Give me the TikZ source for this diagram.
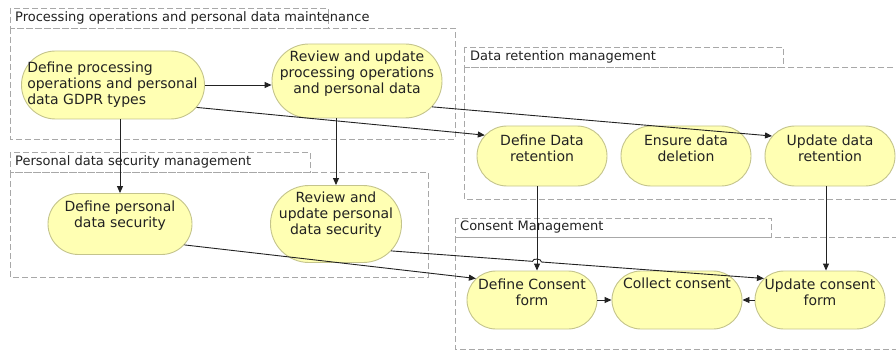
\documentclass[tikz,border=0pt]{standalone}
\usepackage{fontspec}
\setmainfont{DejaVu Sans}
\usetikzlibrary{shapes.misc,arrows.meta,calc}
\definecolor{nodefill}{HTML}{FFFFB3}
\definecolor{nodeline}{HTML}{C4C48C}
\definecolor{grp}{HTML}{A8A8A8}
\definecolor{ink}{HTML}{222222}
\begin{document}
\begin{tikzpicture}[x=1pt,y=-1pt,
  act/.style={rounded rectangle, draw=nodeline, fill=nodefill, line width=0.9pt, inner sep=0pt},
  txt/.style={font=\fontsize{14}{16}\selectfont, text=ink, align=center, inner sep=0pt},
  grpbox/.style={draw=grp, dash pattern=on 6pt off 3pt, line width=0.8pt},
  grplabel/.style={font=\fontsize{13}{15}\selectfont, text=ink, anchor=west, inner sep=0pt},
  flow/.style={draw=ink, line width=0.9pt, -{Triangle[length=7pt,width=6pt]}}]
\useasboundingbox (0,0) rectangle (896,350);
\fill[white] (0,0) rectangle (896,350);
% groups
\draw[grpbox] (10,8) rectangle (328,28);
\draw[grpbox] (10,28) rectangle (455,139);
\node[grplabel] (g1) at (15,18) {Processing operations and personal data maintenance};
\draw[grpbox] (10,152) rectangle (310,172);
\draw[grpbox] (10,172) rectangle (428,277);
\node[grplabel] (g2) at (15,162) {Personal data security management};
\draw[grpbox] (464,47) rectangle (783,67);
\draw[grpbox] (464,67) rectangle (902,199);
\node[grplabel] (g3) at (470,57) {Data retention management};
\draw[grpbox] (455,218) rectangle (771,237);
\draw[grpbox] (455,237) rectangle (902,349);
\node[grplabel] (g4) at (460,227) {Consent Management};
% activities
\node[act, minimum width=183pt, minimum height=68pt] (dp) at (113,85) {};
\node[act, minimum width=170pt, minimum height=74pt] (rp) at (357,81) {};
\node[act, minimum width=144pt, minimum height=61pt] (dps) at (120,224) {};
\node[act, minimum width=131pt, minimum height=77pt] (rps) at (336,224) {};
\node[act, minimum width=130pt, minimum height=60pt] (ddr) at (542,156) {};
\node[act, minimum width=130pt, minimum height=60pt] (edd) at (686,156) {};
\node[act, minimum width=130pt, minimum height=60pt] (udr) at (830,156) {};
\node[act, minimum width=130pt, minimum height=58pt] (dcf) at (532,300) {};
\node[act, minimum width=130pt, minimum height=58pt] (cc) at (677,300) {};
\node[act, minimum width=130pt, minimum height=58pt] (ucf) at (820,300) {};
% texts
\node[txt, align=left, anchor=west] (dpt) at ([xshift=6pt]dp.west) {Define processing\\operations and personal\\data GDPR types};
\node[txt] (rpt) at ([yshift=7pt]rp.center) {Review and update\\processing operations\\and personal data};
\node[txt] (dpst) at ([yshift=8pt]dps.center) {Define personal\\data security};
\node[txt] (rpst) at ([yshift=9pt]rps.center) {Review and\\update personal\\data security};
\node[txt] (ddrt) at ([yshift=8pt]ddr.center) {Define Data\\retention};
\node[txt] (eddt) at ([yshift=8pt]edd.center) {Ensure data\\deletion};
\node[txt] (udrt) at ([yshift=8pt]udr.center) {Update data\\retention};
\node[txt] (dcft) at ([yshift=8pt]dcf.center) {Define Consent\\form};
\node[txt] (cct) at ([yshift=17pt]cc.center) {Collect consent};
\node[txt] (ucft) at ([yshift=8pt]ucf.center) {Update consent\\form};
% connectors
\draw[flow] (dp.east) -- (dp.east -| rp.west);
\draw[flow] (dp.-15) -- (ddr.160);
\draw[flow] (rp.-19) -- (udr.161);
\draw[flow] (dps.north |- dp.south) -- (dps.north);
\draw[flow] (rps.north |- rp.south) -- (rps.north);
\draw[flow] (dps.-18) -- (dcf.159);
\coordinate (va) at ([xshift=-5pt]ddr.south);
\coordinate (vb) at (va |- dcf.north);
\draw[flow] (va) -- (vb);
\coordinate (ra) at (rps.-26);
\coordinate (ua) at (ucf.159);
\coordinate (xx) at (intersection of ra--ua and va--vb);
\draw[flow] (ra) -- ($(xx)!4.5pt!(ra)$) to[bend left=90] ($(xx)!4.5pt!(ua)$) -- (ua);
\coordinate (wa) at ([xshift=-4pt]udr.south);
\draw[flow] (wa) -- (wa |- ucf.north);
\draw[flow] (dcf.east) -- (cc.west);
\draw[flow] (ucf.west) -- (cc.east);
\end{tikzpicture}
\end{document}
